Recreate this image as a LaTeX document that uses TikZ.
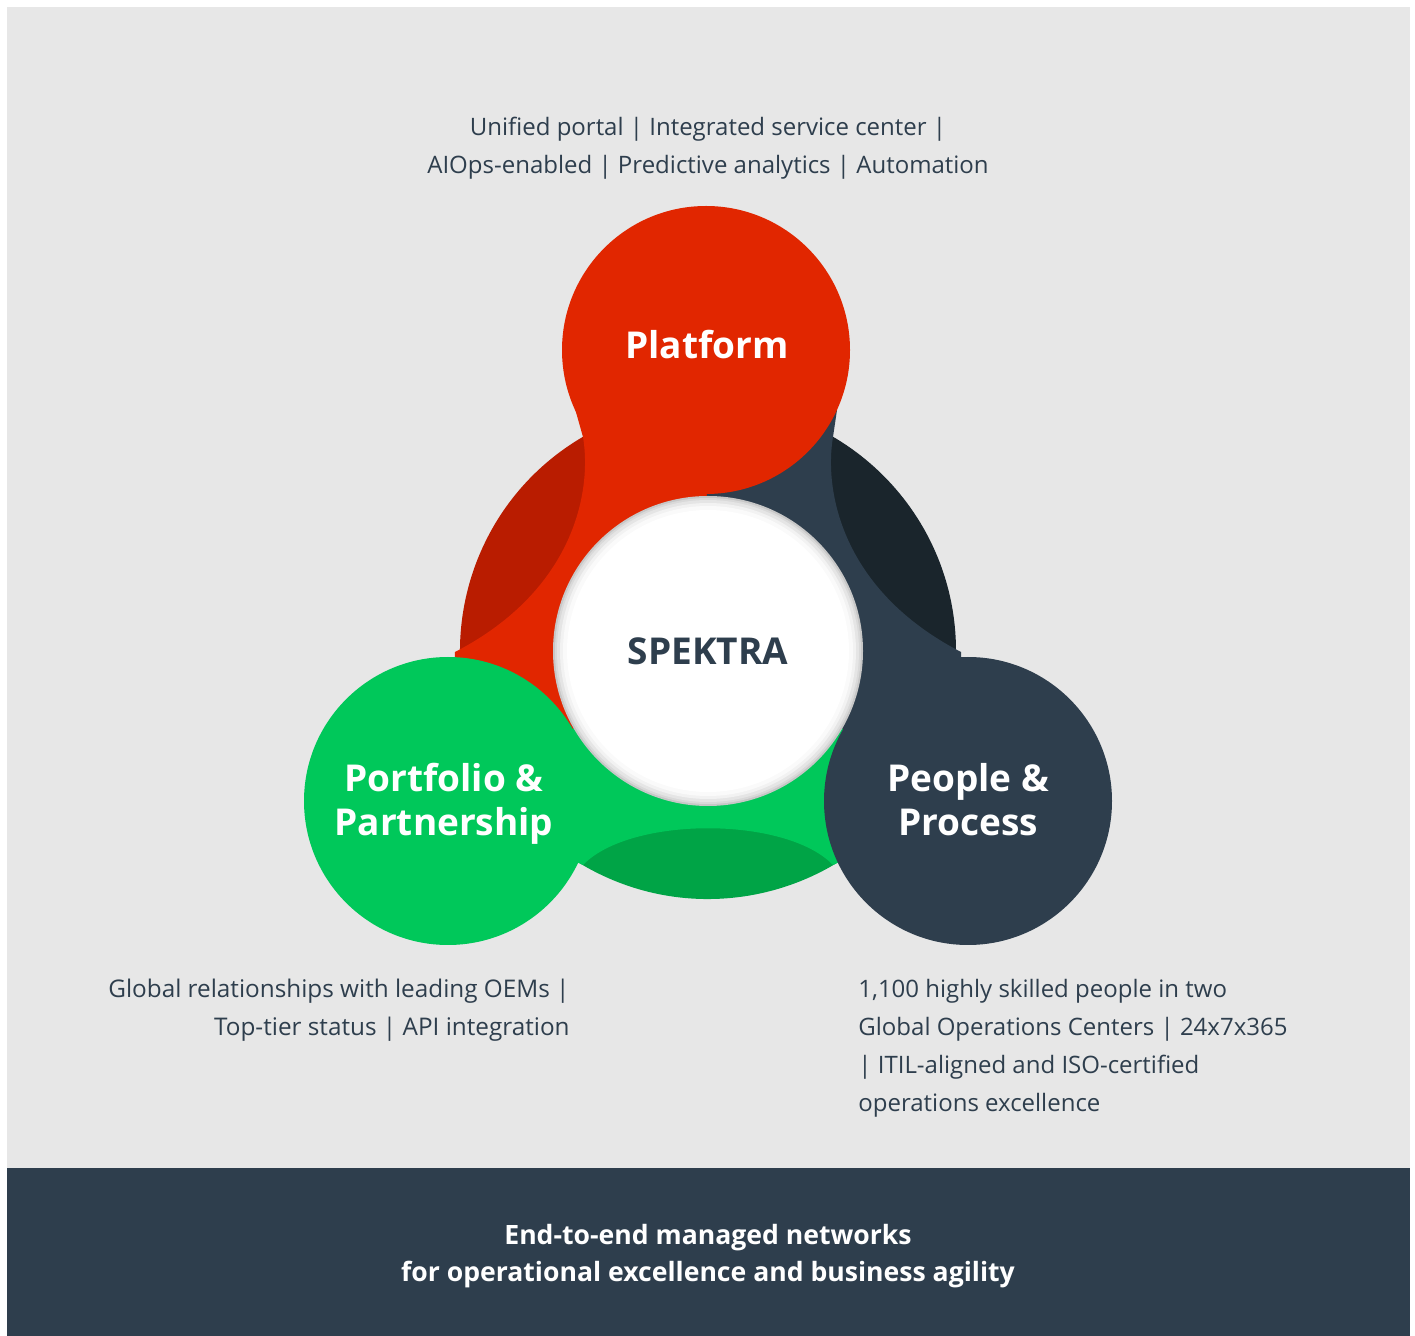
\documentclass[tikz,border=0pt]{standalone}
\usepackage{fontspec}
\setmainfont{Open Sans}

\definecolor{bggray}{HTML}{E7E7E7}
\definecolor{slate}{HTML}{2E3E4D}
\definecolor{darkslate}{HTML}{1A252C}
\definecolor{platred}{HTML}{E12600}
\definecolor{darkred}{HTML}{B91C00}
\definecolor{portgreen}{HTML}{00C85A}
\definecolor{darkgreen}{HTML}{00A446}

\begin{document}
\begin{tikzpicture}[x=0.5pt, y=-0.5pt]

  \newcommand\RING{248}
  \newcommand\BALL{144}
  \newcommand\CORE{155}
  \newcommand\TITLE{\fontsize{18.5}{22}\selectfont\bfseries}
  \newcommand\NOTE{\fontsize{12}{19}\selectfont}

  \useasboundingbox (0,0) rectangle (1415,1336);
  \fill[bggray] (7,7) rectangle (1410,1168);
  \fill[slate] (7,1168) rectangle (1410,1336);

  \coordinate (C) at (708,651);
  \coordinate (P) at (706,350);
  \coordinate (F) at (448,801);
  \coordinate (Q) at (968,801);

  % outer ring, dark part of each sector
  \fill[darkred] (C) -- ++(150:\RING) arc[start angle=150, end angle=270, radius=\RING] -- cycle;
  \fill[darkslate] (C) -- ++(-90:\RING) arc[start angle=-90, end angle=30, radius=\RING] -- cycle;
  \fill[darkgreen] (C) -- ++(30:\RING) arc[start angle=30, end angle=150, radius=\RING] -- cycle;

  % tails
  \fill[platred] (P) -- (574,405) -- (583,437) .. controls (592,490) and (575,590) .. (455,652) -- (F) -- (C) -- cycle;
  \fill[portgreen] (C) -- (F) -- (583,865) .. controls (630,816) and (786,816) .. (833,865) -- (Q) -- cycle;
  \fill[slate] (C) -- (Q) -- (961,652) .. controls (841,590) and (824,490) .. (833,437) -- (837,410) -- (P) -- cycle;

  % balls
  \fill[platred] (P) circle (\BALL);
  \fill[portgreen] (F) circle (\BALL);
  \fill[slate] (Q) circle (\BALL);

  % core with inner shadow
  \foreach \r/\c in {155/black!22, 153/black!15, 151/black!10, 148/black!5, 145/black!2, 141/white}
    \fill[\c] (C) circle (\r);

  \node[text=white, font=\TITLE] (platform) at (707,345) {Platform};
  \node[text=slate, font=\TITLE] (spektra) at (708,651) {SPEKTRA};
  \node[text=white, font=\TITLE, align=center] (portfolio) at (444,804) {Portfolio \&\\Partnership};
  \node[text=white, font=\TITLE, align=center] (people) at (968,800) {People \&\\Process};

  \node[text=slate, font=\NOTE, align=center] (platnote) at (708,148)
    {Unified portal | Integrated service center |\\AIOps-enabled | Predictive analytics | Automation};
  \node[text=slate, font=\fontsize{12.15}{19}\selectfont, align=right, anchor=east, inner sep=0pt] (portnote) at (570,1010)
    {Global relationships with leading OEMs |\\Top-tier status | API integration};
  \node[text=slate, font=\NOTE, align=left, anchor=west, inner sep=0pt] (peoplenote) at (858,1048)
    {1,100 highly skilled people in two\\Global Operations Centers | 24x7x365\\| ITIL-aligned and ISO-certified\\operations excellence};

  \node[text=white, font=\fontsize{13.3}{18.5}\selectfont\bfseries, align=center] (claim) at (708,1256)
    {End-to-end managed networks\\for operational excellence and business agility};

\end{tikzpicture}
\end{document}
